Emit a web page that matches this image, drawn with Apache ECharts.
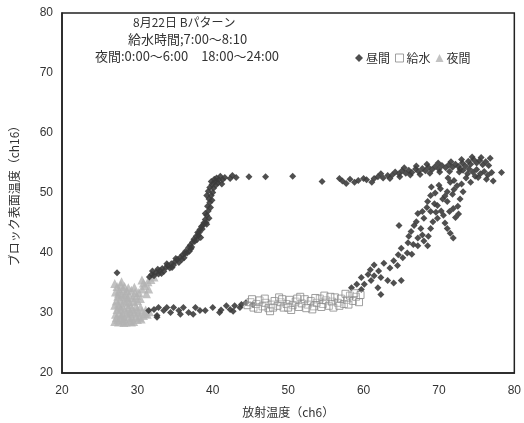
<!DOCTYPE html>
<html>
<head>
<meta charset="utf-8">
<script src="https://cdn.jsdelivr.net/npm/echarts@6/dist/echarts.min.js"></script>
<style>
html,body{margin:0;padding:0;background:#fff;}
#c{width:524px;height:423px;}
</style>
</head>
<body>
<div id="c"></div>
<script>
// ---- data ----
const xTicks = [20, 30, 40, 50, 60, 70, 80];
const yTicks = [20, 30, 40, 50, 60, 70, 80];
const seriesNames = ['昼間', '給水', '夜間'];
const noteLines = ['8月22日 Bパターン', '給水時間;7:00～8:10', '夜間:0:00～6:00　18:00～24:00'];
const xName = '放射温度（ch6）';
const yName = 'ブロック表面温度（ch16）';

// 昼間 (daytime) points [x, y]
const dayPoints = [
  [27.3,36.7],
  [31.6,36.0],[31.9,36.4],[32.2,36.2],[32.5,36.8],[32.8,36.5],[33.0,37.1],[33.3,37.4],[33.5,36.9],[33.8,37.6],[34.0,37.9],
  [34.3,37.5],[34.5,38.2],[34.8,38.0],[35.0,38.6],[35.3,38.9],[35.5,38.4],[35.7,39.3],[36.0,39.7],[36.2,39.2],[36.4,40.3],
  [36.6,40.0],[36.8,40.9],[37.0,41.3],[37.1,40.7],[37.3,41.8],[37.5,42.3],[37.6,41.9],[37.8,42.8],[38.0,43.4],[38.1,42.9],
  [38.3,43.9],[38.5,44.4],[38.6,44.0],[38.8,45.0],[39.0,45.6],[39.1,45.1],[39.2,46.3],[39.4,47.0],[39.3,47.8],[39.6,48.4],
  [39.5,49.0],[39.8,49.6],[39.4,50.3],[39.6,50.9],[39.9,51.4],[40.1,50.8],[40.3,51.9],[40.5,52.5],[40.7,51.7],[41.0,52.8],
  [40.2,52.3],[39.8,51.9],[41.3,52.2],[41.6,52.6],[42.3,52.4],[42.6,52.9],[43.1,52.6],[44.8,52.7],[47.0,52.7],[50.6,52.8],
  [32.0,37.0],[32.7,37.3],[33.2,36.6],[33.9,38.2],[34.6,37.6],[35.1,39.1],[35.9,38.9],[36.3,39.9],[36.9,40.3],[37.2,41.0],
  [37.9,42.2],[38.2,43.4],[38.7,44.6],[38.4,42.6],[39.2,44.8],[39.5,45.8],[39.0,46.6],[39.7,47.6],[39.9,48.8],[39.2,49.6],
  [40.0,50.1],[40.4,51.3],[40.8,52.2],[41.2,51.5],
  [54.5,51.9],[56.8,52.4],[57.2,52.0],[57.7,51.6],[58.2,52.3],[59.3,52.1],[60.0,52.4],[60.4,52.2],[61.4,52.4],[61.9,52.7],
  [62.6,52.5],[63.2,52.9],[63.8,53.0],[64.2,53.5],[64.7,53.2],[65.1,53.7],[65.6,53.3],[66.0,53.8],[66.4,53.4],[66.9,54.0],
  [67.3,53.6],[67.8,54.1],[68.2,53.7],[68.6,54.3],[69.1,53.9],[69.5,54.4],[70.0,54.0],[70.4,54.6],[70.9,54.2],[71.3,54.7],
  [71.8,54.3],[72.2,54.8],[72.6,54.4],[73.1,55.0],[73.5,54.5],[73.9,55.3],[74.2,54.8],[74.6,55.6],[75.0,55.0],[75.4,55.4],
  [75.8,54.7],[76.2,55.2],[76.6,54.6],[74.0,54.0],[74.5,53.5],[75.0,53.9],[75.5,53.2],[76.0,53.6],[76.5,53.0],[77.0,53.4],
  [75.2,52.6],[76.3,52.3],[77.2,52.0],[74.8,52.8],[73.8,53.2],[73.2,53.8],[72.7,53.5],[78.3,53.4],[76.8,55.8],[75.6,55.9],[74.4,56.0],
  [63.5,52.4],[64.8,52.7],[66.2,53.0],[67.5,53.1],[68.8,53.3],[70.1,53.5],[71.4,53.6],[72.8,54.0],[65.4,54.2],[67.0,54.5],
  [68.4,54.8],[69.9,55.0],[71.6,55.2],[73.0,55.6],[62.3,53.2],[61.1,51.8],[58.8,51.8],
  [68.9,49.6],[70.2,50.7],[71.1,50.2],[72.4,51.2],[73.2,50.2],[68.5,48.6],[69.8,47.9],[71.1,48.6],[71.9,47.4],[68.9,46.9],
  [67.2,46.6],[68.0,45.8],[69.8,45.8],[70.6,46.3],[66.7,44.6],[67.6,44.1],[68.9,44.1],[64.7,44.6],[66.3,43.6],[71.1,44.1],
  [71.5,43.3],[71.9,42.5],[67.2,42.5],[68.0,42.0],[67.2,41.2],[68.5,41.2],[65.9,41.7],[65.0,40.8],[64.6,39.7],[65.2,39.2],
  [64.0,38.7],[62.7,38.3],[61.4,38.0],[60.6,36.4],[61.4,36.2],[59.7,35.9],[60.1,34.8],[61.0,35.4],[62.3,35.9],[63.2,35.4],
  [64.0,35.0],[65.0,35.4],[59.1,34.8],[58.4,34.2],[61.9,34.2],[62.3,33.1],[59.7,33.9],
  [70.5,49.0],[71.8,49.8],[72.8,49.0],[69.4,48.2],[70.3,47.0],[72.5,47.8],[73.0,51.5],[71.5,51.8],[70.0,51.3],[69.5,50.0],
  [67.0,45.2],[67.8,46.9],[68.4,47.6],[69.2,45.2],[69.6,46.8],[70.8,45.0],[66.0,42.8],[66.6,41.4],[67.8,43.0],[68.6,42.8],
  [63.5,37.5],[62.0,37.0],[60.9,37.2],[64.5,37.9],[65.8,40.0],[66.4,39.8],[71.2,52.5],[72.0,52.1],[73.6,52.5],[74.2,51.8],
  [70.8,49.5],[72.0,50.6],[71.4,46.9],[69.0,51.0],[72.2,45.9],[72.6,46.5],
  [31.5,30.4],[32.2,30.6],[32.8,30.9],[32.6,29.6],[33.5,30.4],[33.9,30.9],[34.4,30.1],[34.8,30.9],[35.5,30.4],[35.7,29.8],
  [36.1,30.9],[36.8,30.1],[37.4,29.8],[37.7,30.9],[38.3,30.4],[39.0,30.4],[32.6,29.3],[40.0,30.9],[40.9,30.1],[41.1,30.5],
  [41.8,31.2],[42.3,30.6],[42.7,30.3],[42.9,31.2],[43.6,30.9],[43.8,31.4],[44.4,31.7],[45.3,31.4]
];

// 給水 (water supply) points [x, y]
const waterPoints = [
  [44.6,31.3],[45.0,31.8],[45.4,30.9],[45.8,31.5],[46.2,32.1],[46.6,31.1],[47.0,31.7],[47.4,30.8],[47.8,31.4],[48.2,32.0],
  [48.6,31.2],[49.0,31.8],[49.4,30.9],[49.8,31.5],[50.2,32.2],[50.6,31.3],[51.0,31.9],[51.4,31.0],[51.8,31.6],[52.2,32.3],
  [52.6,31.4],[53.0,32.0],[53.4,31.1],[53.8,31.7],[54.2,32.4],[54.6,31.5],[55.0,32.1],[55.4,31.2],[55.8,31.9],[56.2,32.6],
  [56.6,31.7],[57.0,32.4],[57.4,31.5],[57.8,32.2],[58.2,32.9],[58.6,32.0],[59.0,32.7],[59.4,31.8],[56.0,30.9],[53.2,30.6],
  [50.4,30.5],[47.6,30.3],[48.8,32.6],[51.6,32.7],[54.8,32.9],[57.6,33.2],
  [45.2,32.3],[46.0,30.7],[46.9,32.4],[48.0,30.9],[49.2,32.3],[50.0,30.9],[51.2,32.4],[52.4,30.8],[53.6,32.5],[54.4,31.0],
  [55.6,32.7],[56.8,31.2],[58.0,31.4],[58.8,33.3],[59.6,33.0]
];

// 夜間 (night) points [x, y]
const nightPoints = [
  [27.0,28.6],[27.5,28.5],[28.0,28.7],[28.5,28.5],[29.0,28.8],[29.5,28.6],[30.0,28.9],[27.2,29.2],[27.8,29.3],[28.3,29.1],
  [28.8,29.4],[29.3,29.2],[29.8,29.5],[30.3,29.3],[30.8,29.6],[31.3,29.8],[27.1,29.8],[27.6,30.0],[28.1,29.8],[28.6,30.1],
  [29.1,29.9],[29.6,30.2],[30.1,30.0],[30.6,30.3],[31.1,30.5],[31.6,30.2],[27.3,30.6],[27.8,30.8],[28.3,30.5],[28.8,30.9],
  [29.3,30.7],[29.8,31.1],[30.4,31.0],[27.0,31.3],[27.5,31.5],[28.0,31.2],[28.5,31.7],[29.0,31.4],[29.5,31.9],[30.0,32.1],
  [27.2,32.0],[27.7,32.3],[28.2,32.0],[28.7,32.5],[29.4,32.6],[29.9,32.9],[27.4,32.8],[27.9,33.1],[28.4,33.3],[28.9,33.0],
  [30.2,33.4],[27.1,33.5],[27.6,33.8],[28.1,34.1],[28.6,33.7],[30.6,34.0],[27.3,34.4],[27.8,34.7],[28.3,34.4],[31.0,34.6],
  [31.4,35.2],[31.8,35.6],[32.2,36.0],[30.8,35.0],[29.2,33.8],[29.6,34.3],
  [27.4,28.9],[28.2,28.4],[29.2,28.5],[30.5,29.0],[27.9,29.6],[29.0,30.3],[30.0,30.6],[31.0,29.9],[27.5,31.0],[28.9,31.9],
  [28.3,32.7],[27.5,33.3],[28.8,34.2],[27.9,35.2],[27.0,34.9],[30.4,32.4],[31.2,33.2],[29.7,33.4],[30.6,35.5],[31.5,34.0]
];

// ---- chart ----
const chart = echarts.init(document.getElementById('c'), null, {renderer: 'canvas'});
const font = '"Noto Sans CJK JP", "Noto Sans", sans-serif';
const labelFont = '"Liberation Sans", Arial, sans-serif';

chart.setOption({
  animation: false,
  backgroundColor: '#fff',
  grid: {left: 57, top: 13, right: 8, bottom: 47, show: true, borderColor: '#222', borderWidth: 1.5, backgroundColor: 'transparent'},
  xAxis: {
    type: 'value', min: xTicks[0], max: xTicks[xTicks.length - 1], interval: 10,
    name: xName, nameLocation: 'middle', nameGap: 33,
    nameTextStyle: {fontFamily: font, fontSize: 12, color: '#333'},
    axisLine: {show: true, onZero: false, lineStyle: {color: '#222', width: 1.5}},
    axisTick: {show: false}, splitLine: {show: false},
    axisLabel: {margin: 12, fontFamily: labelFont, fontSize: 12, color: '#333',
      formatter: v => (xTicks.indexOf(v) >= 0 ? String(v) : '')}
  },
  yAxis: {
    type: 'value', min: yTicks[0], max: yTicks[yTicks.length - 1], interval: 10,
    name: yName, nameLocation: 'middle', nameGap: 42, nameRotate: 90,
    nameTextStyle: {fontFamily: font, fontSize: 12, color: '#333'},
    axisLine: {show: true, onZero: false, lineStyle: {color: '#222', width: 1.5}},
    axisTick: {show: false}, splitLine: {show: false},
    axisLabel: {margin: 9, fontFamily: labelFont, fontSize: 12, color: '#333',
      formatter: v => (yTicks.indexOf(v) >= 0 ? String(v) : '')}
  },
  legend: {
    left: 350, top: 47, itemWidth: 8, itemHeight: 8, itemGap: 5,
    textStyle: {fontFamily: font, fontSize: 12, color: '#333', padding: [0, 0, 0, -2]},
    data: [
      {name: seriesNames[0], icon: 'diamond', itemStyle: {color: '#3c3c3c'}},
      {name: seriesNames[1], icon: 'rect', itemStyle: {color: '#fff', borderColor: '#888', borderWidth: 1}},
      {name: seriesNames[2], icon: 'triangle', itemStyle: {color: '#b3b3b3'}}
    ]
  },
  graphic: noteLines.map((t, i) => ({
    type: 'text', left: [133, 128, 95][i], top: 16 + i * 17,
    style: {text: t, font: (i === 0 ? '12px ' : '13px ') + font, fill: '#333'}
  })),
  series: [
    {name: seriesNames[0], type: 'scatter', data: dayPoints, symbol: 'diamond', symbolSize: 7,
     itemStyle: {color: '#3c3c3c', opacity: 0.9}, z: 3},
    {name: seriesNames[1], type: 'scatter', data: waterPoints, symbol: 'rect', symbolSize: 7,
     itemStyle: {color: 'rgba(255,255,255,0.3)', borderColor: '#888', borderWidth: 1}, z: 4},
    {name: seriesNames[2], type: 'scatter', data: nightPoints, symbol: 'triangle', symbolSize: 9,
     itemStyle: {color: '#b3b3b3'}, z: 2}
  ]
});
</script>
</body>
</html>
